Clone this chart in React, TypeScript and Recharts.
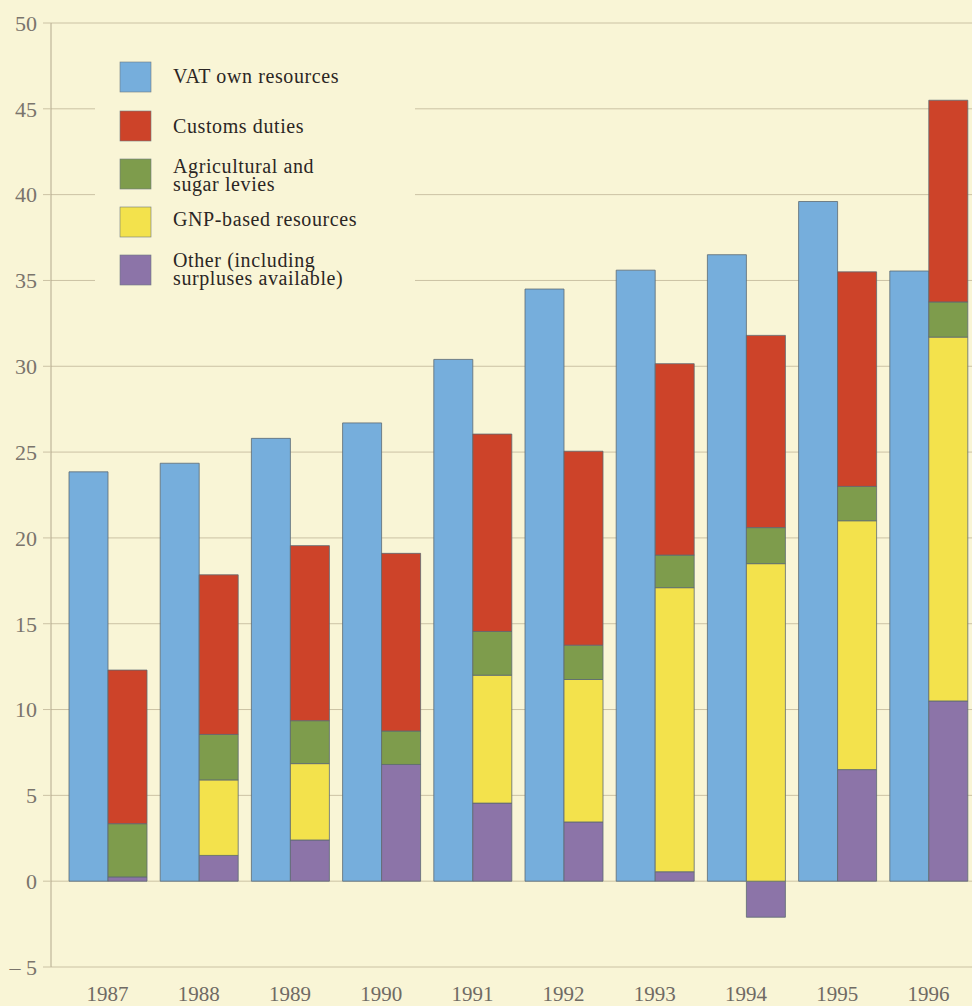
import { BarChart, Bar, XAxis, YAxis, CartesianGrid, Legend } from "recharts";

const years = ["1987", "1988", "1989", "1990", "1991", "1992", "1993", "1994", "1995", "1996"];
const vatOwn = [23.85, 24.35, 25.8, 26.7, 30.4, 34.5, 35.6, 36.5, 39.6, 35.55];
const otherIncl = [0.25, 1.5, 2.4, 6.8, 4.55, 3.45, 0.55, -2.1, 6.5, 10.5];
const gnpBased = [0, 4.4, 4.45, 0, 7.45, 8.3, 16.55, 18.5, 14.5, 21.2];
const agriSugar = [3.1, 2.65, 2.5, 1.95, 2.55, 2.0, 1.9, 2.1, 2.0, 2.05];
const customsDuties = [8.95, 9.3, 10.2, 10.35, 11.5, 11.3, 11.15, 11.2, 12.5, 11.75];
const yTicks = [-5, 0, 5, 10, 15, 20, 25, 30, 35, 40, 45, 50];

const legendItems = [
  { key: "vat", color: "#76aedc", lines: ["VAT own resources"] },
  { key: "customs", color: "#cd4329", lines: ["Customs duties"] },
  { key: "agri", color: "#7e9c4c", lines: ["Agricultural and", "sugar levies"] },
  { key: "gnp", color: "#f3e24c", lines: ["GNP-based resources"] },
  { key: "other", color: "#8c74a8", lines: ["Other (including", "surpluses available)"] },
];

const data = years.map((year, i) => ({
  year,
  vat: vatOwn[i],
  other: otherIncl[i],
  gnp: gnpBased[i],
  agri: agriSugar[i],
  customs: customsDuties[i],
}));

const BG = "#f9f5d6";
const GRID = "#cbc2a4";
const SERIF = "'Liberation Serif', 'DejaVu Serif', Tinos, 'Times New Roman', serif";
const EDGE = "#5d6a72";

const colorOf = (k: string) => legendItems.find((l) => l.key === k)!.color;

// swatch tops and first text baselines inside the legend box
const swatchTop = [32, 81, 129, 177, 225];
const textBase = [53, 103, 143, 196, 237];

const LegendBox = () => (
  <svg width={320} height={265} style={{ display: "block", fontFamily: SERIF }}>
    {legendItems.map((item, i) => (
      <g key={item.key}>
        <rect x={25} y={swatchTop[i]} width={31} height={30} fill={item.color} stroke="#6f7a80" strokeWidth={0.6} />
        <text x={78} y={textBase[i]} style={{ fontFamily: SERIF, fontSize: 20, letterSpacing: 0.6 }} fill="#2b2624">
          {item.lines.map((ln, j) => (
            <tspan key={j} x={78} dy={j === 0 ? 0 : 18}>{ln}</tspan>
          ))}
        </text>
      </g>
    ))}
  </svg>
);

export default function App() {
  return (
    <div style={{ position: "absolute", left: 0, top: 0, width: 972, height: 1006, overflow: "hidden", background: BG, fontFamily: SERIF }}>
      <BarChart
        width={980}
        height={1006}
        data={data}
        margin={{ top: 23, right: 6, left: 0, bottom: 0 }}
        barCategoryGap={7}
        barGap={0}
        stackOffset="sign"
        style={{ fontFamily: SERIF }}
      >
        <CartesianGrid vertical={false} stroke={GRID} strokeWidth={1} />
        <XAxis
          dataKey="year"
          axisLine={false}
          tickLine={false}
          height={39}
          tickSize={0}
          tickMargin={19}
          padding={{ left: 11, right: 0 }}
          tick={{ fontFamily: SERIF, fontSize: 21, fill: "#6f6a64" }}
        />
        <YAxis
          width={51}
          domain={[-5, 50]}
          ticks={yTicks}
          interval={0}
          axisLine={{ stroke: "#b3a98e" }}
          tickLine={{ stroke: GRID }}
          tickSize={8}
          tickMargin={6}
          tickFormatter={(v: number) => (v < 0 ? `– ${Math.abs(v)}` : `${v}`)}
          tick={{ fontFamily: SERIF, fontSize: 22, fill: "#7a746c" }}
        />
        <Legend
          layout="horizontal"
          align="center"
          verticalAlign="middle"
          content={<LegendBox />}
          wrapperStyle={{ left: 95, top: 30, width: 320, height: 265, background: BG }}
        />
        <Bar dataKey="vat" stackId="a" fill={colorOf("vat")} stroke={EDGE} strokeWidth={0.8} isAnimationActive={false} />
        <Bar dataKey="other" stackId="b" fill={colorOf("other")} stroke={EDGE} strokeWidth={0.8} isAnimationActive={false} />
        <Bar dataKey="gnp" stackId="b" fill={colorOf("gnp")} stroke={EDGE} strokeWidth={0.8} isAnimationActive={false} />
        <Bar dataKey="agri" stackId="b" fill={colorOf("agri")} stroke={EDGE} strokeWidth={0.8} isAnimationActive={false} />
        <Bar dataKey="customs" stackId="b" fill={colorOf("customs")} stroke={EDGE} strokeWidth={0.8} isAnimationActive={false} />
      </BarChart>
    </div>
  );
}
